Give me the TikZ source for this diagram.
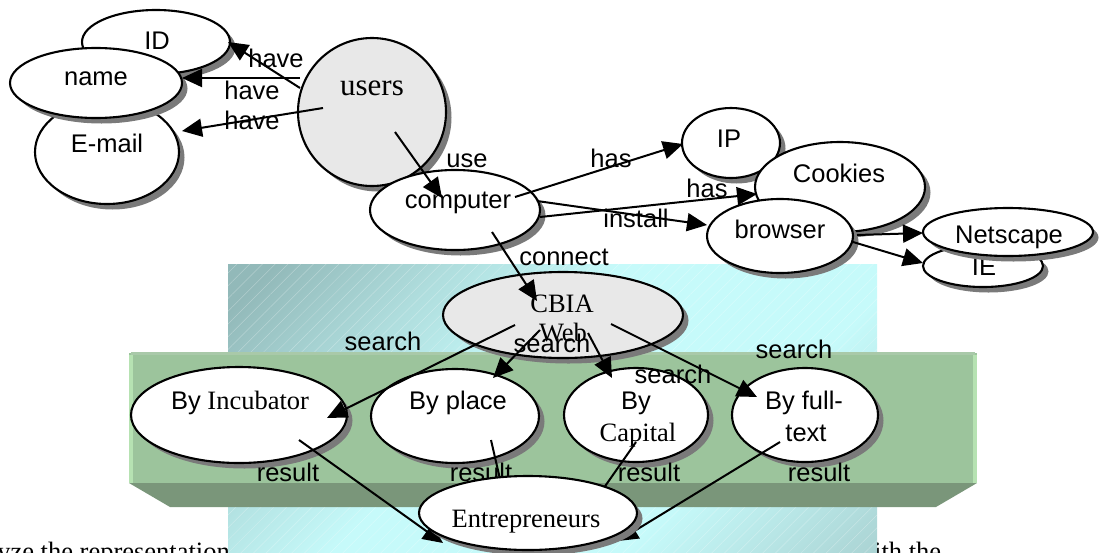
\documentclass[tikz,border=0pt]{standalone}
\usepackage{fontspec}
\setmainfont{Liberation Serif}
\newfontfamily\sansf{Liberation Sans}
\usetikzlibrary{shapes.geometric,arrows.meta,shadows,patterns.meta}
\definecolor{tealdark}{HTML}{92B9B9}
\definecolor{cyanlight}{HTML}{C6FAFA}
\definecolor{tealmid}{HTML}{A9D1D1}
\colorlet{tealblend}{cyanlight!55!tealdark}
\definecolor{barface}{HTML}{9CC49C}
\definecolor{barbottom}{HTML}{7A967A}
\definecolor{baredge}{HTML}{B6E2B2}
\definecolor{bartop}{HTML}{A9C9A9}
\definecolor{nodegray}{HTML}{E8E8E8}
\definecolor{shadowgray}{HTML}{7A7A7A}
\pgfdeclarehorizontalshading{cyanshade}{100bp}{color(0bp)=(tealdark); color(18bp)=(tealdark); color(31bp)=(tealblend); color(44bp)=(cyanlight); color(66bp)=(cyanlight); color(86bp)=(tealmid); color(100bp)=(tealmid)}
\begin{document}
\begin{tikzpicture}[x=1pt,y=-1pt,
  ell/.style={ellipse, draw, line width=2.1pt, fill=white, inner sep=0pt,
    drop shadow={shadow xshift=5.5pt, shadow yshift=-5.5pt, fill=shadowgray, opacity=1}},
  grayell/.style={ell, fill=nodegray},
  lab/.style={inner sep=0pt, anchor=base, font=\sansf\fontsize{25.5}{30}\selectfont},
  ser/.style={inner sep=0pt, anchor=base, font=\fontsize{26.5}{30}\selectfont},
  arr/.style={line width=2pt, -{Triangle[length=20pt,width=18pt]}}]
\useasboundingbox (0,0) rectangle (1106,552);
\begin{scope}
\clip (0,0) rectangle (1106,552);
% cut-off text line at the bottom
\node[ser, anchor=base east] (btxtA) at (230,560) {yze the representation};
\node[ser, anchor=base west] (btxtB) at (874,560) {ith the};
% cyan panel
\shade[shading=cyanshade, shading angle=-45] (228,264) rectangle (877,560);
\fill[pattern={Lines[angle=45,distance=9pt,line width=0.5pt]}, pattern color=white, opacity=0.3] (228,264) rectangle (877,560);
% green bar
\fill[barbottom] (129,483) -- (977,483) -- (936,507) -- (170,507) -- cycle;
\fill[barface] (129,353) rectangle (977,483);
\fill[baredge] (129,355) rectangle (133,483);
\fill[baredge] (973,355) rectangle (977,483);
\fill[bartop] (131,352) rectangle (975,355);

% top-left group
\node[ell, minimum width=148pt, minimum height=64pt] (id) at (156,42) {};
\node[lab] (tid) at (157,49) {ID};
\node[ell, minimum width=144pt, minimum height=104pt] (email) at (107,152) {};
\node[lab] (temail) at (107,152) {E-mail};
\node[ell, minimum width=172pt, minimum height=70pt] (name) at (96,83) {};
\node[lab] (tname) at (96,85) {name};
\node[grayell, circle, minimum size=148pt] (users) at (372,112) {};
\node[ser, font=\fontsize{31}{34}\selectfont] (tusers) at (372,95) {users};
\node[ell, minimum width=170pt, minimum height=80pt] (computer) at (455,210) {};
\node[lab] (tcomputer) at (458,208) {computer};
% right group
\node[ell, minimum width=98pt, minimum height=70pt] (ip) at (731,143) {};
\node[lab] (tip) at (729,147) {IP};
\node[ell, minimum width=170pt, minimum height=90pt] (cookies) at (840,187) {};
\node[lab] (tcookies) at (839,182) {Cookies};
\node[ell, minimum width=146pt, minimum height=74pt] (browser) at (780,236) {};
\node[lab] (tbrowser) at (780,238) {browser};
\node[ell, minimum width=120pt, minimum height=42pt] (ie) at (983,266) {};
\node[lab] (tie) at (984,275) {IE};
\node[ell, minimum width=170pt, minimum height=48pt] (netscape) at (1008,232) {};
\node[lab] (tnetscape) at (1009,243) {Netscape};
% CBIA
\node[grayell, minimum width=240pt, minimum height=86pt] (cbia) at (563,315) {};
\node[ser] (tcbia) at (562,312) {CBIA};
\node[ser] (tweb) at (563,341) {Web};
% search results
\node[ell, minimum width=216pt, minimum height=96pt] (incub) at (239,415) {};
\node[ser] (tincub) at (240,409) {{\sansf\fontsize{25.5}{30}\selectfont By} Incubator};
\node[ell, minimum width=168pt, minimum height=94pt] (place) at (455,416) {};
\node[lab] (tplace) at (458,409) {By place};
\node[ell, minimum width=144pt, minimum height=94pt] (capital) at (636,415) {};
\node[lab] (tcapA) at (636,409) {By};
\node[ser] (tcapB) at (638,441) {Capital};
\node[ell, minimum width=146pt, minimum height=94pt] (full) at (805,415) {};
\node[lab] (tfullA) at (804,409) {By full-};
\node[lab] (tfullB) at (806,441) {text};

% connector end points
\coordinate (h1s) at (300,88);  \coordinate (h1e) at (228,42);
\coordinate (h2s) at (300,78);  \coordinate (h2e) at (182,78);
\coordinate (h3s) at (323,108); \coordinate (h3e) at (182,131);
\coordinate (us) at (395,132);  \coordinate (ue) at (442,198);
\coordinate (p1s) at (515,197); \coordinate (p1e) at (683,144);
\coordinate (p2s) at (540,217); \coordinate (p2e) at (757,194);
\coordinate (is) at (537,201);  \coordinate (ie2) at (707,225);
\coordinate (cs) at (492,232);  \coordinate (ce) at (537,301);
\coordinate (bns) at (857,235); \coordinate (bne) at (923,233);
\coordinate (bis) at (853,242); \coordinate (bie) at (923,263);
\coordinate (s1s) at (515,325); \coordinate (s1e) at (327,418);
\coordinate (s2s) at (540,330); \coordinate (s2e) at (493,378);
\coordinate (s3s) at (588,333); \coordinate (s3e) at (612,378);
\coordinate (s4s) at (611,324); \coordinate (s4e) at (757,397);
\coordinate (r1s) at (299,440); \coordinate (r1e) at (443,543);
\coordinate (r2s) at (491,440); \coordinate (r2e) at (506,505);
\coordinate (r3s) at (636,442); \coordinate (r3e) at (587,512);
\coordinate (r4s) at (780,442); \coordinate (r4e) at (618,541);

\draw[arr] (h1s) -- (h1e);
\draw[arr] (h2s) -- (h2e);
\draw[arr] (h3s) -- (h3e);
\draw[arr] (us) -- (ue);
\draw[arr] (p1s) -- (p1e);
\draw[arr] (p2s) -- (p2e);
\draw[arr] (is) -- (ie2);
\draw[arr] (cs) -- (ce);
\draw[arr] (bns) -- (bne);
\draw[arr] (bis) -- (bie);
\draw[arr] (s1s) -- (s1e);
\draw[arr] (s2s) -- (s2e);
\draw[arr] (s3s) -- (s3e);
\draw[arr] (s4s) -- (s4e);
\draw[arr] (r1s) -- (r1e);
\draw[arr] (r2s) -- (r2e);
\draw[arr] (r3s) -- (r3e);
\draw[arr] (r4s) -- (r4e);

% connector labels
\node[lab] (lh1) at (276,67) {have};
\node[lab] (lh2) at (252,99) {have};
\node[lab] (lh3) at (252,129) {have};
\node[lab] (luse) at (467,167) {use};
\node[lab] (lp1) at (611,167) {has};
\node[lab] (lp2) at (707,197) {has};
\node[lab] (linst) at (636,227) {install};
\node[lab] (lconn) at (564,265) {connect};
\node[lab] (ls1) at (383,350) {search};
\node[lab] (ls2) at (552,352) {search};
\node[lab] (ls3) at (673,383) {search};
\node[lab] (ls4) at (794,358) {search};
\node[lab] (lr1) at (288,481) {result};
\node[lab] (lr2) at (481,481) {result};
\node[lab] (lr3) at (649,481) {result};
\node[lab] (lr4) at (819,481) {result};

% Entrepreneurs on top
\node[ell, minimum width=218pt, minimum height=74pt] (entre) at (528,513) {};
\node[ser] (tentre) at (526,527) {Entrepreneurs};
\end{scope}
\end{tikzpicture}
\end{document}
